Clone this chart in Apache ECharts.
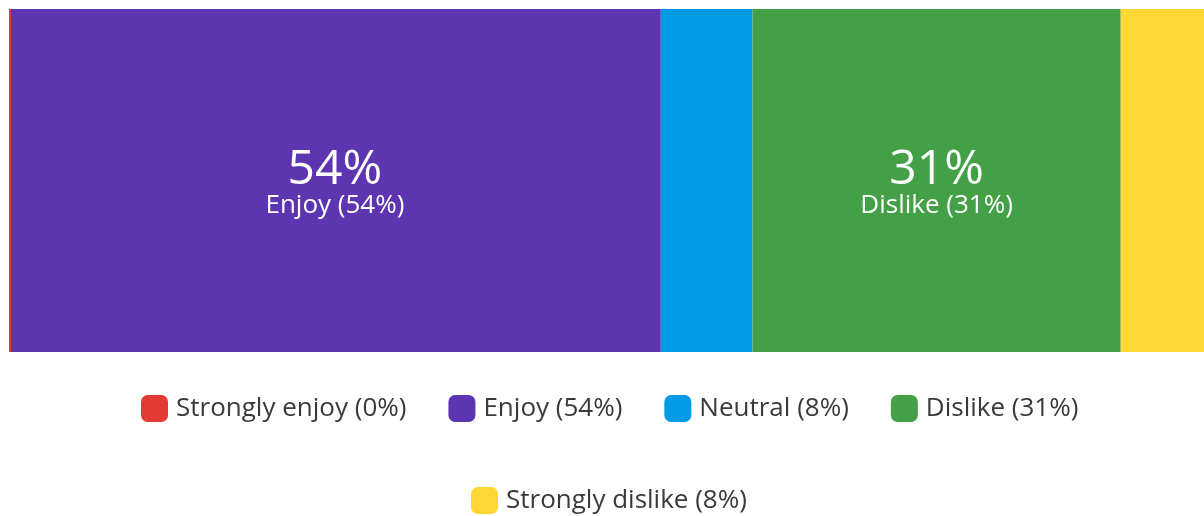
<!DOCTYPE html>
<html><head><meta charset="utf-8">
<script src="https://cdn.jsdelivr.net/npm/echarts@6/dist/echarts.min.js"></script>
<style>html,body{margin:0;padding:0;background:#fff}#c{width:1204px;height:516px}</style>
</head><body><div id="c"></div>
<script>
const categories = ['Q'];
const seriesNames = ['Strongly enjoy', 'Enjoy', 'Neutral', 'Dislike', 'Strongly dislike'];
const seriesValues = [0, 54.0, 7.6, 30.5, 7.9];
const seriesLabels = ['0%', '54%', '8%', '31%', '8%'];
const showInBar = [false, true, false, true, false];
const colors = ['#E53935', '#5E35B1', '#039BE5', '#43A047', '#FDD835'];
const FONT = 'Open Sans';

const series = seriesNames.map((n, i) => ({
  name: n + ' (' + seriesLabels[i] + ')',
  type: 'bar',
  stack: 'all',
  barWidth: '100%',
  barMinHeight: i === 0 ? 2 : 0,
  z: i === 0 ? 5 : 2,
  itemStyle: { color: colors[i] },
  data: [seriesValues[i]],
  label: {
    show: showInBar[i],
    position: 'inside',
    formatter: '{a|' + seriesLabels[i] + '}\n{b|' + n + ' (' + seriesLabels[i] + ')}',
    rich: {
      a: { fontFamily: FONT, fontSize: 48, lineHeight: 51, color: '#fff' },
      b: { fontFamily: FONT, fontSize: 26, lineHeight: 20, color: '#fff' }
    }
  },
  emphasis: { disabled: true }
}));

const names = series.map(s => s.name);
const legendCommon = {
  orient: 'horizontal', icon: 'roundRect', itemWidth: 27, itemHeight: 27,
  itemGap: 42, padding: 0,
  textStyle: { fontFamily: FONT, fontSize: 26, color: '#3a3a3a', padding: [0, 0, 0, 3] }
};
const chart = echarts.init(document.getElementById('c'));
chart.setOption({
  animation: false,
  grid: { left: 9, right: 0, top: 9, height: 343 },
  xAxis: { type: 'value', min: 0, max: 99, show: false },
  yAxis: { type: 'category', data: categories, show: false },
  legend: [
    Object.assign({}, legendCommon, { data: names.slice(0, 4), left: 141, top: 395 }),
    Object.assign({}, legendCommon, { data: names.slice(4), left: 471, top: 487 })
  ],
  series: series
});
</script></body></html>
